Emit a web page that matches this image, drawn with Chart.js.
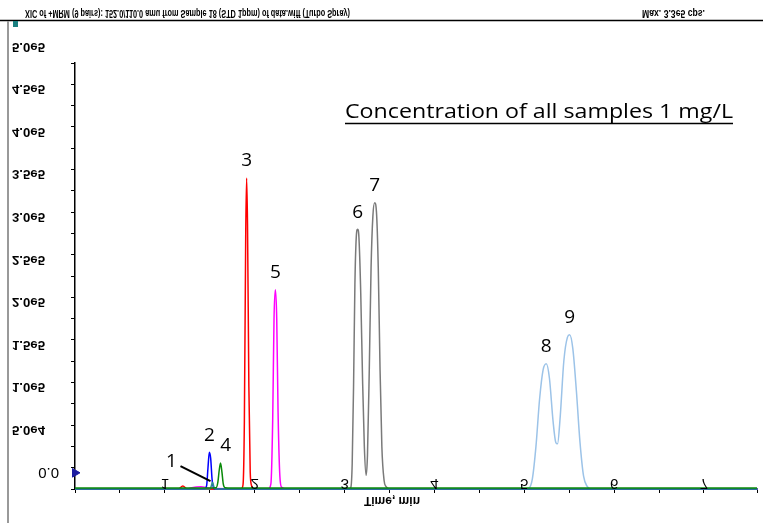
<!DOCTYPE html>
<html>
<head>
<meta charset="utf-8">
<script src="https://cdn.jsdelivr.net/npm/chart.js@4/dist/chart.umd.min.js"></script>
<style>
  html, body { margin: 0; padding: 0; background: #fff; }
  #wrap { width: 763px; height: 523px; }
</style>
</head>
<body>
<div id="wrap"><canvas id="chart" width="763" height="523"></canvas></div>
<script>
// ========================================
// Data
// time in min, intensity in cps
// ========================================
const headerLeft = 'XIC of +MRM (9 pairs): 152.0/110.0 amu from Sample 18 (STD 1ppm) of data.wiff (Turbo Spray)';
const headerRight = 'Max. 3.3e5 cps.';
const chartTitle = 'Concentration of all samples 1 mg/L';
const xAxisTitle = 'Time, min';

const yTickValues = [0, 50000, 100000, 150000, 200000, 250000, 300000, 350000, 400000, 450000, 500000];
const yTickLabels = ['0.0', '5.0e4', '1.0e5', '1.5e5', '2.0e5', '2.5e5', '3.0e5', '3.5e5', '4.0e5', '4.5e5', '5.0e5'];
const xTickValues = [1, 2, 3, 4, 5, 6, 7];
const xTickLabels = ['1', '2', '3', '4', '5', '6', '7'];

const peakNames = ['1', '2', '3', '4', '5', '6', '7', '8', '9'];
const peakTimes = [1.53, 1.495, 1.91, 1.62, 2.23, 3.145, 3.335, 5.245, 5.505];
const peakHeights = [8000, 43000, 365000, 30500, 234000, 305000, 336000, 147000, 181000];

const greenSeries = [[0, 1200], [1.45, 1200], [1.57, 1500], [1.59, 8000], [1.605, 22000], [1.62, 30500], [1.635, 20000], [1.65, 6000], [1.67, 1500], [1.75, 1200], [7.59, 1200]];
const blueSeries = [[0, 0], [1.44, 0], [1.465, 4000], [1.48, 25000], [1.495, 43000], [1.51, 36000], [1.525, 12000], [1.54, 2000], [1.56, 0], [7.59, 0]];
const tealSeries = [[0, 0], [1.5, 0], [1.515, 3000], [1.53, 8000], [1.545, 3000], [1.56, 0], [7.59, 0]];
const redSeries = [[0, 0], [1.15, 0], [1.2, 3500], [1.25, 0], [1.85, 0], [1.87, 5000], [1.885, 80000], [1.9, 300000], [1.91, 365000], [1.92, 310000], [1.935, 120000], [1.95, 20000], [1.965, 4000], [1.99, 0], [7.59, 0]];
const magentaSeries = [[0, 0], [1.25, 0], [1.3, 1500], [1.4, 2500], [1.5, 1000], [2.15, 0], [2.18, 6000], [2.2, 80000], [2.215, 200000], [2.23, 234000], [2.245, 200000], [2.26, 90000], [2.28, 15000], [2.3, 2000], [2.35, 0], [7.59, 0]];
const graySeries = [[0, 0], [3.05, 0], [3.07, 2000], [3.085, 30000], [3.1, 120000], [3.115, 240000], [3.13, 295000], [3.145, 305000], [3.16, 295000], [3.18, 230000], [3.2, 130000], [3.22, 50000], [3.24, 16000], [3.255, 40000], [3.275, 140000], [3.295, 260000], [3.315, 320000], [3.335, 336000], [3.355, 325000], [3.375, 260000], [3.395, 140000], [3.415, 50000], [3.44, 10000], [3.46, 3000], [3.5, 0], [7.59, 0]];
const lightBlueSeries = [[0, 0], [5.0, 0], [5.05, 1000], [5.09, 12000], [5.13, 50000], [5.17, 105000], [5.21, 140000], [5.245, 147000], [5.28, 130000], [5.32, 80000], [5.35, 55000], [5.37, 53000], [5.4, 85000], [5.44, 150000], [5.48, 178000], [5.505, 181000], [5.54, 165000], [5.58, 115000], [5.62, 55000], [5.66, 15000], [5.7, 3000], [5.75, 0], [7.59, 0]];
const markerPoint = [[0, 19000]];

// text drawn upside down, like in the scanned original
function flipText(ctx, text, x, y, align, font, width) {
  ctx.save();
  ctx.font = font;
  ctx.textAlign = align;
  ctx.textBaseline = 'middle';
  ctx.translate(x, y);
  let sx = 1;
  if (width) sx = width / ctx.measureText(text).width;
  ctx.scale(sx, -1);
  ctx.fillStyle = '#000';
  ctx.fillText(text, 0, 0);
  ctx.restore();
}

const decorPlugin = {
  id: 'decor',
  afterDraw(chart) {
    const ctx = chart.ctx;
    const xs = chart.scales.x, ys = chart.scales.y;
    const area = chart.chartArea;

    // frame of the scan
    ctx.save();
    ctx.strokeStyle = '#000';
    ctx.lineWidth = 1.5;
    ctx.beginPath(); ctx.moveTo(0, 20.5); ctx.lineTo(763, 20.5); ctx.stroke();
    ctx.strokeStyle = '#999';
    ctx.lineWidth = 2;
    ctx.beginPath(); ctx.moveTo(8, 21); ctx.lineTo(8, 523); ctx.stroke();
    ctx.fillStyle = '#1a7f80';
    ctx.fillRect(13, 21, 5, 6);
    ctx.restore();

    flipText(ctx, headerLeft, 25, 13, 'left', 'bold 10px "Liberation Sans"', 325);
    flipText(ctx, headerRight, 642, 13, 'left', 'bold 10px "Liberation Sans"', 63);

    // y labels, offset above their ticks
    yTickValues.forEach((v, i) => {
      const py = ys.getPixelForValue(v) - 17;
      if (v === 0) flipText(ctx, yTickLabels[i], 59, py, 'right', '15px "Liberation Sans"');
      else flipText(ctx, yTickLabels[i], 12, py, 'left', 'bold 12px "Liberation Sans"', 33);
    });

    // x labels sit on the axis
    xTickValues.forEach((v, i) => {
      flipText(ctx, xTickLabels[i], xs.getPixelForValue(v), area.bottom - 6, 'center', '15px "Liberation Sans"');
    });
    flipText(ctx, xAxisTitle, (area.left + area.right) / 2 - 24, 500, 'center', 'bold 12px "Liberation Sans"', 56);

    // title
    ctx.save();
    ctx.font = '20px "Open Sans"';
    ctx.fillStyle = '#000';
    ctx.textBaseline = 'alphabetic';
    ctx.textAlign = 'left';
    const tw = ctx.measureText(chartTitle).width;
    ctx.save();
    ctx.translate(345, 118);
    ctx.scale(388 / tw, 1);
    ctx.fillText(chartTitle, 0, 0);
    ctx.restore();
    ctx.lineWidth = 1.3;
    ctx.strokeStyle = '#000';
    ctx.beginPath(); ctx.moveTo(345, 123.5); ctx.lineTo(733, 123.5); ctx.stroke();

    // peak numbers
    ctx.font = '19px "Open Sans"';
    ctx.textAlign = 'center';
    ctx.textBaseline = 'middle';
    peakNames.forEach((name, i) => {
      const px = xs.getPixelForValue(peakTimes[i]);
      const py = ys.getPixelForValue(peakHeights[i]);
      if (name === '1') {
        ctx.fillText(name, px - 41, py - 21);
        ctx.lineWidth = 2;
        ctx.beginPath();
        ctx.moveTo(px - 32, py - 16);
        ctx.lineTo(px - 2, py - 1);
        ctx.stroke();
      } else if (name === '4') {
        ctx.fillText(name, px + 5, py - 17);
      } else {
        ctx.fillText(name, px, py - 17);
      }
    });
    ctx.restore();
  }
};

function series(data, color) {
  return {
    data: data,
    borderColor: color,
    backgroundColor: color,
    borderWidth: 1.5,
    pointRadius: 0,
    fill: false,
    cubicInterpolationMode: 'monotone',
    clip: { left: 0, top: 0, right: 0, bottom: 3 }
  };
}

new Chart(document.getElementById('chart'), {
  type: 'line',
  data: {
    datasets: [
      series(greenSeries, '#0a8a0a'),
      series(tealSeries, '#2a9090'),
      series(blueSeries, '#0000ff'),
      series(redSeries, '#ff0000'),
      series(magentaSeries, '#ff00ff'),
      series(graySeries, '#7a7a7a'),
      series(lightBlueSeries, '#9cc3e8'),
      {
        data: markerPoint,
        showLine: false,
        pointStyle: 'triangle',
        rotation: 90,
        pointRadius: 5,
        backgroundColor: '#1c1ca0',
        borderColor: '#1c1ca0',
        clip: false
      }
    ]
  },
  options: {
    responsive: false,
    devicePixelRatio: 1,
    animation: false,
    layout: { padding: { top: 63, right: 5, left: 0, bottom: 0 } },
    plugins: { legend: { display: false }, tooltip: { enabled: false } },
    scales: {
      x: {
        type: 'linear',
        min: 0,
        max: 7.59,
        afterFit: s => { s.height = 34; },
        ticks: { stepSize: 0.5, display: false },
        grid: { display: true, drawOnChartArea: false, drawTicks: true, tickLength: 4, color: '#000' },
        border: { color: '#5a5aa8', width: 2 }
      },
      y: {
        type: 'linear',
        min: 0,
        max: 500000,
        afterFit: s => { s.width = 75; },
        ticks: { stepSize: 25000, display: false },
        grid: { display: true, drawOnChartArea: false, drawTicks: true, tickLength: 4, color: '#000' },
        border: { color: '#000', width: 1.5 }
      }
    }
  },
  plugins: [decorPlugin]
});
</script>
</body>
</html>
